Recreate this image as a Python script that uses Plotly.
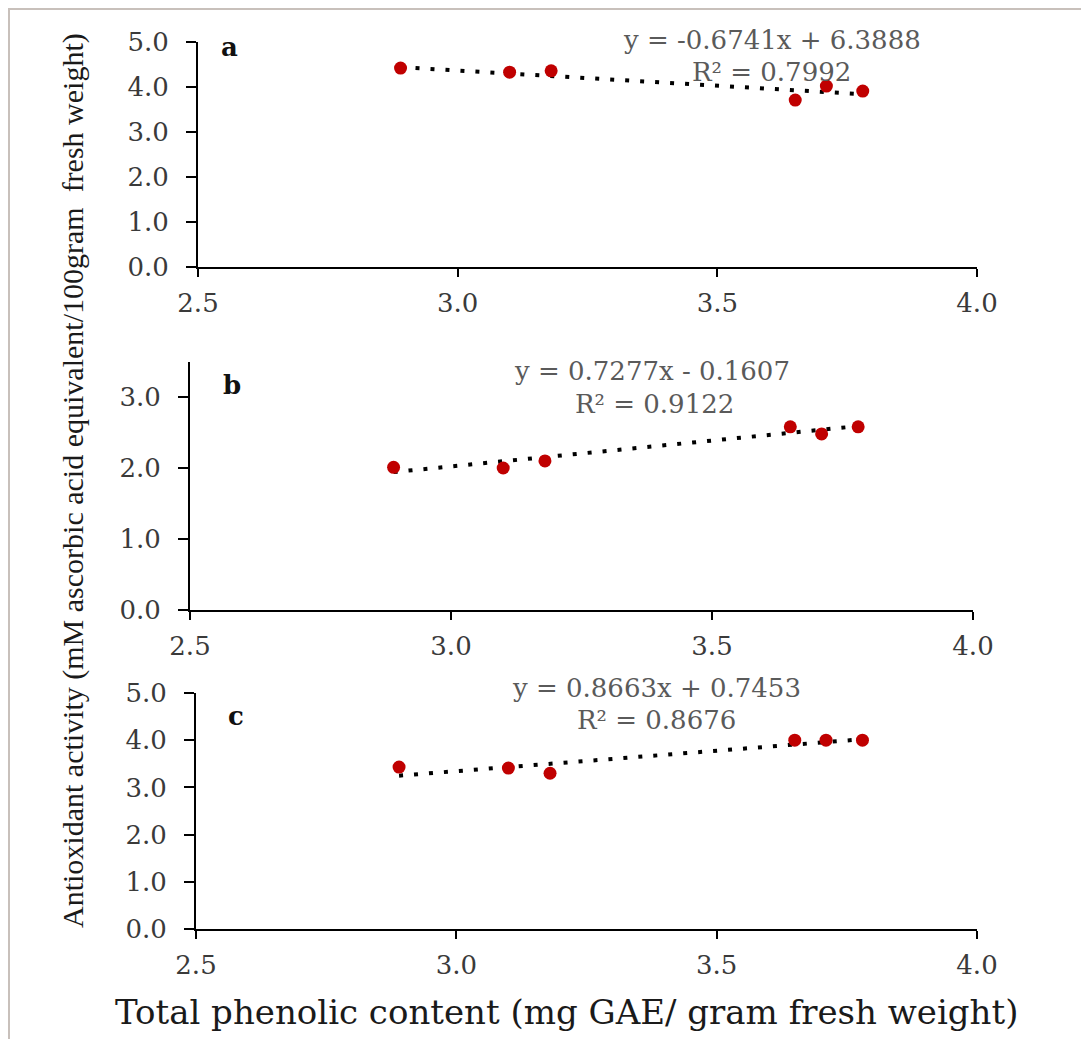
import plotly.graph_objects as go

# ---- data ----
tpc = [2.89, 3.10, 3.18, 3.65, 3.71, 3.78]           # Total phenolic content (x)
act_a = [4.42, 4.33, 4.36, 3.71, 4.02, 3.91]
act_b = [2.01, 2.00, 2.10, 2.58, 2.48, 2.58]
act_c = [3.43, 3.41, 3.30, 4.00, 4.00, 4.00]
panel_labels = ["a", "b", "c"]
slopes = [-0.6741, 0.7277, 0.8663]
intercepts = [6.3888, -0.1607, 0.7453]
equations = ["y = -0.6741x + 6.3888", "y = 0.7277x - 0.1607", "y = 0.8663x + 0.7453"]
r2_labels = ["R² = 0.7992", "R² = 0.9122", "R² = 0.8676"]
x_ticks = [2.5, 3.0, 3.5, 4.0]
y_ticks_a = [0, 1, 2, 3, 4, 5]
y_ticks_b = [0, 1, 2, 3]
y_ticks_c = [0, 1, 2, 3, 4, 5]

W, H = 1089, 1039
OFF = 8  # page body margin in the browser
CREAM = "#fcede3"
FONT = "DejaVu Serif"

series = [act_a, act_b, act_c]
yticks = [y_ticks_a, y_ticks_b, y_ticks_c]
yranges = [[0, 5], [0, 3.5], [0, 5]]


def px(p):
    return (p - OFF) / W


def py(p):
    return 1 - (p - OFF) / H


# pixel layout of each panel: (x_left, x_right, y_bottom, y_top)
pix = [(198, 977, 267, 42), (190, 973, 610, 361.5), (196, 977, 929, 693)]
eq_pos = [(772, 40), (652, 371), (656, 688)]
r2_pos = [(771, 72), (654, 404), (656, 720)]
lab_pos = [(229, 47), (232, 385), (236, 716)]

fig = go.Figure()
layout = dict(
    width=W, height=H, margin=dict(l=0, r=0, t=0, b=0, autoexpand=False),
    paper_bgcolor=CREAM, plot_bgcolor="rgba(0,0,0,0)",
    showlegend=False,
    font=dict(family=FONT, color="#333333"),
)
annotations = []
for i in range(3):
    xs = "x" if i == 0 else f"x{i+1}"
    ys = "y" if i == 0 else f"y{i+1}"
    xl, xr, yb, yt = pix[i]
    xdom = [px(xl), px(xr)]
    ydom = [py(yb), py(yt)]
    axkey = "" if i == 0 else str(i + 1)
    layout["xaxis" + axkey] = dict(
        domain=xdom, range=[2.5, 4.0], anchor=ys, tickvals=x_ticks,
        tickformat=".1f", showline=True, linecolor="black", linewidth=2,
        ticks="outside", ticklen=8, tickwidth=2, tickcolor="black",
        showgrid=False, zeroline=False, ticklabelstandoff=4, automargin=False,
        tickfont=dict(family=FONT, size=26, color="#3a3a3a"),
    )
    layout["yaxis" + axkey] = dict(
        domain=ydom, range=yranges[i], anchor=xs, tickvals=yticks[i],
        tickformat=".1f", showline=True, linecolor="black", linewidth=2,
        ticks="outside", ticklen=10, tickwidth=2, tickcolor="black",
        showgrid=False, zeroline=False, ticklabelstandoff=12, automargin=False,
        tickfont=dict(family=FONT, size=26, color="#3a3a3a"),
    )
    # trendline from stated regression coefficients
    xfit = [min(tpc), max(tpc)]
    yfit = [slopes[i] * v + intercepts[i] for v in xfit]
    fig.add_trace(go.Scatter(
        x=xfit, y=yfit, mode="lines", xaxis=xs, yaxis=ys,
        line=dict(color="black", width=4, dash="4px,11px"), hoverinfo="skip",
    ))
    fig.add_trace(go.Scatter(
        x=tpc, y=series[i], mode="markers", xaxis=xs, yaxis=ys,
        marker=dict(color="#c00000", size=13, line=dict(width=0)),
    ))
    for txt, (ex, ey) in ((equations[i], eq_pos[i]), (r2_labels[i], r2_pos[i])):
        annotations.append(dict(
            xref="paper", yref="paper", x=px(ex), y=py(ey),
            xanchor="center", yanchor="middle", showarrow=False,
            text=txt, font=dict(family=FONT, size=26, color="#5a5a5a"),
        ))
    lx, ly = lab_pos[i]
    annotations.append(dict(
        xref="paper", yref="paper", x=px(lx), y=py(ly),
        xanchor="center", yanchor="middle", showarrow=False,
        text="<b>" + panel_labels[i] + "</b>",
        font=dict(family=FONT, size=26, color="#111111"),
    ))

annotations.append(dict(
    xref="paper", yref="paper", x=px(566), y=py(1012),
    xanchor="center", yanchor="middle", showarrow=False,
    text="Total phenolic content (mg GAE/ gram fresh weight)",
    font=dict(family=FONT, size=34, color="#1a1a1a"),
))
annotations.append(dict(
    xref="paper", yref="paper", x=px(73), y=py(481),
    xanchor="center", yanchor="middle", showarrow=False, textangle=-90,
    text="Antioxidant activity (mM ascorbic acid equivalent/100gram  fresh weight)",
    font=dict(family="Liberation Serif", size=30, color="#1a1a1a"),
))
layout["annotations"] = annotations
layout["shapes"] = [dict(
    type="rect", xref="paper", yref="paper", layer="below",
    x0=px(9), x1=1.02, y0=-0.02, y1=py(9),
    fillcolor="white", line=dict(color="#c8c0bb", width=2),
)]
fig.update_layout(**layout)
fig.write_html("out.html")
